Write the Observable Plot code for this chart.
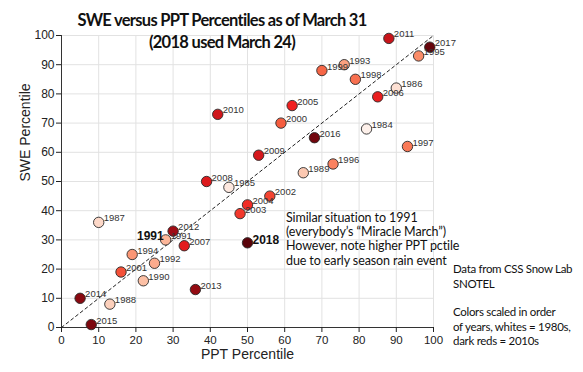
<!DOCTYPE html>
<html>
<head>
<meta charset="utf-8">
<script src="https://cdn.jsdelivr.net/npm/d3@7"></script>
<script src="https://cdn.jsdelivr.net/npm/@observablehq/plot@0.6"></script>
<style>
  html, body { margin: 0; padding: 0; background: #fff; }
  #wrap { position: relative; width: 583px; height: 372px; overflow: hidden; }
  #wrap svg { position: absolute; left: 0; top: 0; }
  .note { position: absolute; font-family: Lato, "Open Sans", sans-serif; color: #111; white-space: nowrap; }
  .title { font-weight: bold; font-size: 16.5px; letter-spacing: -0.7px; text-align: center; width: 400px; left: 22px; line-height: 22px; }
</style>
</head>
<body>
<div id="wrap"></div>
<script>
// Data
const years = [1984, 1985, 1986, 1987, 1988, 1989, 1990, 1991, 1992, 1993, 1994, 1995, 1996, 1997, 1998, 1999,
               2000, 2001, 2002, 2003, 2004, 2005, 2006, 2007, 2008, 2009, 2010, 2011, 2012, 2013, 2014, 2015, 2016, 2017, 2018];
const ppt   = [82, 45, 90, 10, 13, 65, 22, 28, 25, 76, 19, 96, 73, 93, 79, 70,
               59, 16, 56, 48, 50, 62, 85, 33, 39, 53, 42, 88, 30, 36, 5, 8, 68, 99, 50];
const swe   = [68, 48, 82, 36, 8, 53, 16, 30, 22, 90, 25, 93, 56, 62, 85, 88,
               70, 19, 45, 39, 42, 76, 79, 28, 50, 59, 73, 99, 33, 13, 10, 1, 65, 96, 29];
const xTicks = [0, 10, 20, 30, 40, 50, 60, 70, 80, 90, 100];
const yTicks = [0, 10, 20, 30, 40, 50, 60, 70, 80, 90, 100];
const colorStops = [1984, 1990, 1995, 2000, 2005, 2011, 2012, 2018];
const colorRange = ["#fdf0ea", "#fcc0a5", "#fb8c68", "#f55c3e", "#f02020", "#c8141a", "#a00c14", "#5a030a"];

const data = years.map((y, i) => ({year: y, ppt: ppt[i], swe: swe[i]}));
const smallLabels = data.filter(d => d.year !== 2018);
const bold1991 = data.filter(d => d.year === 1991);
const bold2018 = data.filter(d => d.year === 2018);

const chart = Plot.plot({
  width: 583,
  height: 372,
  marginLeft: 61,
  marginRight: 150,
  marginTop: 35,
  marginBottom: 45,
  style: {fontFamily: "'Liberation Sans', Arial, Helvetica, sans-serif", background: "transparent"},
  x: {domain: [0, 100]},
  y: {domain: [0, 100]},
  color: {type: "linear", domain: colorStops, range: colorRange, interpolate: "rgb"},
  marks: [
    Plot.gridX(xTicks, {stroke: "#e2e2e2", strokeOpacity: 1}),
    Plot.gridY(yTicks, {stroke: "#e2e2e2", strokeOpacity: 1}),
    Plot.ruleX([0], {stroke: "#333", strokeWidth: 1}),
    Plot.ruleY([0], {stroke: "#333", strokeWidth: 1}),
    Plot.axisX({ticks: xTicks, tickSize: 5, tickPadding: 3, fontSize: 11.5, label: null, color: "#222"}),
    Plot.axisY({ticks: yTicks, tickSize: 5, tickPadding: 2, fontSize: 12, label: null, color: "#222"}),
    Plot.line([[0, 0], [100, 100]], {stroke: "#222", strokeWidth: 1, strokeDasharray: "3,3"}),
    Plot.dot(data, {x: "ppt", y: "swe", r: 5.2, fill: "year", stroke: "#2a2a2a", strokeWidth: 0.9}),
    Plot.text(smallLabels, {x: "ppt", y: "swe", text: d => String(d.year), textAnchor: "start", dx: 5, dy: -4, fontSize: 9.5, fill: "#333"}),
    Plot.text(bold1991, {x: "ppt", y: "swe", text: d => String(d.year), textAnchor: "end", dx: -2, dy: -4, fontSize: 12, fontWeight: "bold", fill: "#111"}),
    Plot.text(bold2018, {x: "ppt", y: "swe", text: d => String(d.year), textAnchor: "start", dx: 5, dy: -3, fontSize: 12, fontWeight: "bold", fill: "#111"}),
    Plot.text(["PPT Percentile"], {frameAnchor: "bottom", lineAnchor: "middle", dy: 27, fontSize: 14, fill: "#222"}),
    Plot.text(["SWE Percentile"], {frameAnchor: "left", dx: -36, rotate: -90, fontSize: 14, fill: "#222"})
  ]
});

const wrap = document.getElementById("wrap");
wrap.appendChild(chart);

function addNote(html, left, top, cls, extra) {
  const d = document.createElement("div");
  d.className = "note " + (cls || "");
  d.innerHTML = html;
  d.style.left = left + "px";
  d.style.top = top + "px";
  if (extra) Object.assign(d.style, extra);
  wrap.appendChild(d);
}

addNote("SWE versus PPT Percentiles as of March 31<br>(2018 used March 24)", 22, 9, "title");
addNote("Similar situation to 1991<br>(everybody’s “Miracle March”)<br>However, note higher PPT pctile<br>due to early season rain event",
  286, 210.5, "", {fontSize: "12.5px", lineHeight: "14.4px", letterSpacing: "-0.1px"});
addNote("Data from CSS Snow Lab<br>SNOTEL", 453, 262, "", {fontSize: "11.5px", lineHeight: "14.7px", letterSpacing: "-0.3px"});
addNote("Colors scaled in order<br>of years, whites = 1980s,<br>dark reds = 2010s", 453, 305, "", {fontSize: "11.5px", lineHeight: "14.5px", letterSpacing: "-0.3px"});
</script>
</body>
</html>
